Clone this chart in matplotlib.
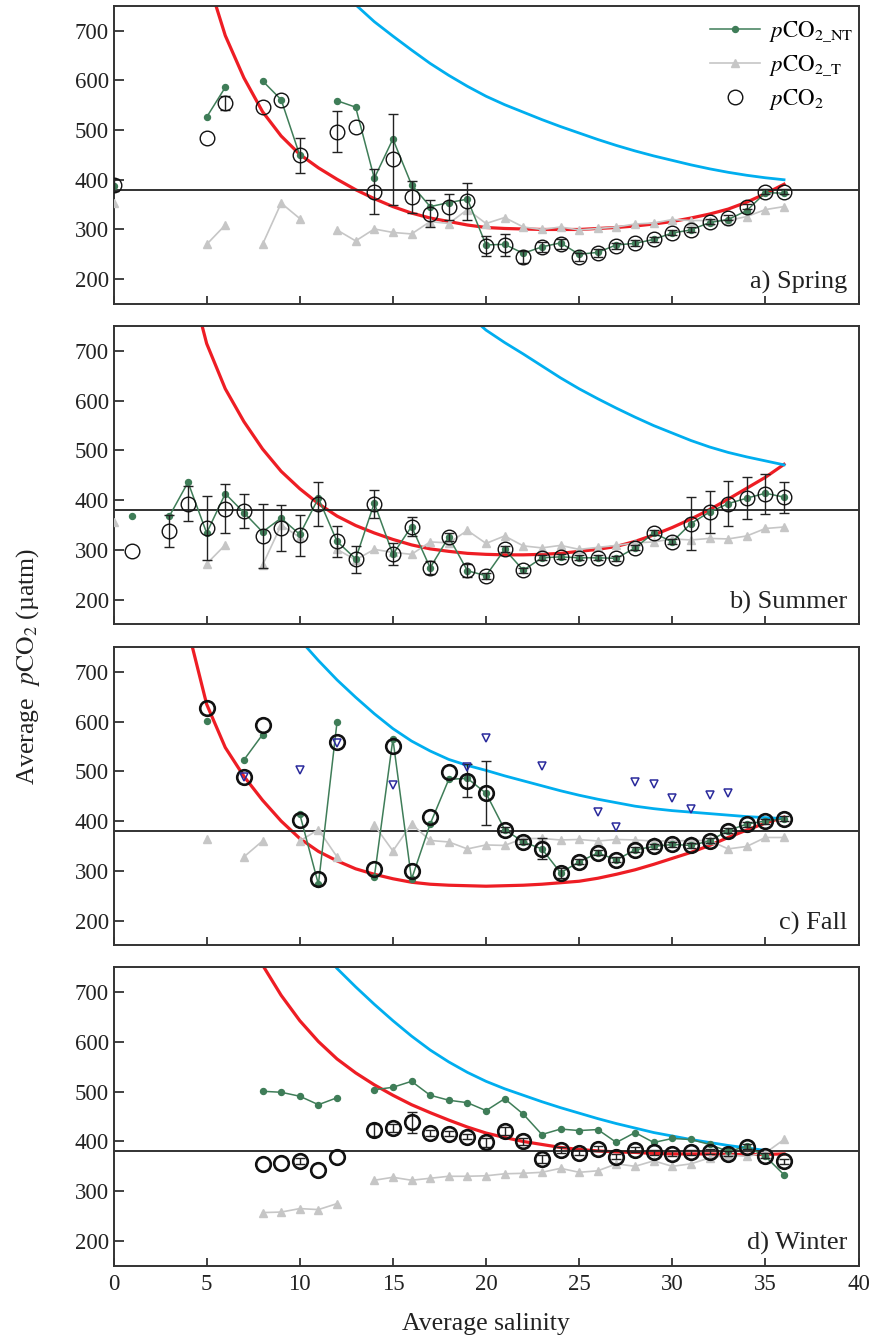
import numpy as np
import matplotlib
matplotlib.use('Agg')
import matplotlib.pyplot as plt

plt.rcParams['font.family'] = ['Liberation Serif', 'DejaVu Serif']
plt.rcParams['mathtext.fontset'] = 'stix'

nan = np.nan
sal = np.arange(0, 37)

# a) Spring
spr_nt = [388, nan, nan, nan, nan, 526, 586, nan, 599, 561, 449, nan, 559, 546, 403, 482, 390, 346, 354, 361,
          269, 270, 252, 265, 273, 250, 254, 269, 272, 280, 293, 299, 314, 320, 338, 374, 373]
spr_t = [354, nan, nan, nan, nan, 270, 309, nan, 270, 353, 322, nan, 299, 277, 301, 294, 291, 316, 312, 340,
         312, 324, 305, 300, 305, 299, 302, 305, 311, 313, 320, 318, 318, 318, 326, 340, 346]
spr_obs = [389, nan, nan, nan, nan, 485, 555, nan, 547, 561, 449, nan, 497, 507, 376, 441, 366, 332, 346, 357,
           267, 268, 244, 264, 270, 245, 252, 267, 272, 280, 293, 299, 316, 324, 346, 376, 376]
spr_err = [12, 0, 0, 0, 0, 0, 14, 0, 0, 0, 35, 0, 42, 0, 45, 91, 32, 27, 26, 37,
           20, 22, 12, 10, 10, 8, 8, 6, 6, 5, 5, 5, 5, 5, 5, 5, 5]
spr_red = [nan, nan, nan, nan, nan, 810, 690, 605, 537, 488, 451, 424, 401, 380, 362, 346, 333, 323, 316, 309,
           304, 302, 301, 300, 300, 300, 302, 304, 307, 311, 316, 323, 331, 341, 355, 372, 391]
spr_blue = [nan] * 12 + [790, 752, 718, 689, 661, 634, 610, 588, 568, 551, 536, 521, 507, 494, 481, 469,
                         458, 448, 439, 430, 422, 415, 409, 404, 400]

# b) Summer
sum_nt = [nan, 368, nan, 368, 436, 334, 413, 375, 336, 364, 331, 404, 317, 282, 394, 291, 347, 264, 326, 258,
          248, 301, 259, 284, 286, 284, 284, 283, 304, 334, 316, 353, 376, 393, 404, 414, 406]
sum_t = [356, nan, nan, nan, nan, 272, 310, nan, 269, 350, 325, nan, 301, 280, 301, 295, 291, 316, 314, 339,
         313, 328, 308, 304, 309, 301, 305, 309, 314, 316, 322, 320, 323, 322, 328, 343, 346]
sum_obs = [nan, 297, nan, 338, 393, 344, 383, 378, 328, 344, 329, 392, 317, 281, 392, 291, 347, 264, 326, 259,
           247, 301, 259, 284, 286, 284, 284, 283, 304, 334, 316, 353, 376, 393, 404, 412, 406]
sum_err = [0, 0, 0, 32, 35, 64, 50, 34, 64, 47, 42, 44, 31, 27, 28, 22, 20, 13, 8, 13,
           6, 6, 5, 5, 5, 5, 5, 5, 5, 5, 5, 54, 43, 45, 42, 40, 31]
sum_red = [nan] * 4 + [860, 715, 624, 558, 503, 458, 423, 393, 368, 349, 334, 321, 310, 302, 297, 293,
                       291, 290, 290, 291, 293, 297, 301, 307, 317, 330, 345, 362, 381, 402, 424, 446, 472]
sum_blue = [nan] * 19 + [775, 742, 717, 694, 670, 646, 624, 604, 585, 567, 550, 535, 520, 507, 496, 487, 479, 471]

# c) Fall
fal_nt = [nan] * 5 + [602, nan, 523, 574, nan, 414, 273, 599, nan, 287, 565, 283, 394, 484, 486,
                      456, 383, 358, 344, 296, 318, 336, 322, 342, 349, 353, 351, 360, 381, 394, 400, 405]
fal_t = [nan] * 5 + [363, nan, 328, 360, nan, 360, 383, 328, nan, 392, 340, 394, 361, 358, 344,
                     352, 351, 365, 365, 362, 363, 360, 363, 362, 360, 360, 361, 361, 344, 349, 367, 367]
fal_obs = [nan] * 5 + [627, nan, 489, 594, nan, 402, 283, 559, nan, 304, 551, 300, 408, 499, 481,
                       456, 383, 358, 344, 296, 318, 336, 322, 342, 349, 353, 351, 360, 381, 394, 400, 405]
fal_err = [0] * 19 + [33, 64, 5, 5, 21, 10, 5, 5, 5, 5, 5, 5, 5, 5, 5, 5, 5, 5]
fal_red = [nan] * 4 + [785, 635, 548, 490, 442, 400, 365, 339, 320, 304, 293, 284, 277, 273, 271, 270,
                       269, 270, 271, 273, 276, 279, 285, 293, 302, 313, 325, 337, 351, 367, 382, 396, 408]
fal_blue = [nan] * 10 + [765, 723, 684, 649, 616, 586, 561, 541, 524, 512, 502, 491, 481, 471, 461, 452,
                         444, 437, 430, 425, 421, 418, 415, 412, 409, 407, 405]
fal_tri_sal = [7, 10, 12, 15, 19, 20, 23, 26, 27, 28, 29, 30, 31, 32, 33]
fal_tri = [488, 502, 558, 473, 508, 567, 511, 418, 388, 479, 474, 447, 425, 453, 456]

# d) Winter
win_nt = [nan] * 8 + [501, 499, 491, 474, 488, nan, 504, 509, 521, 493, 483, 478, 462, 486, 455, 414,
                      425, 422, 424, 398, 418, 398, 406, 404, 394, 380, 390, 370, 333]
win_t = [nan] * 8 + [257, 258, 265, 263, 275, nan, 322, 328, 322, 326, 330, 330, 331, 335, 336, 338,
                     346, 338, 341, 355, 350, 361, 350, 355, 367, 373, 370, 377, 404]
win_obs = [nan] * 8 + [355, 356, 360, 343, 369, nan, 424, 428, 439, 417, 416, 410, 398, 422, 400, 365,
                       383, 377, 385, 369, 383, 378, 375, 378, 379, 375, 389, 371, 360]
win_err = [0] * 8 + [0, 0, 6, 0, 0, 0, 12, 8, 21, 6, 5, 5, 10, 8, 8, 8, 6, 5, 5, 5, 5, 5, 5, 5, 5, 5, 5, 5, 5]
win_red = [nan] * 7 + [830, 755, 694, 643, 601, 566, 538, 514, 493, 474, 458, 443, 429, 417, 408, 400,
                       394, 388, 384, 381, 379, 378, 376, 375, 375, 375, 374, 374, 374, 375]
win_blue = [nan] * 11 + [790, 748, 711, 676, 643, 612, 584, 560, 539, 521, 506, 493, 480, 468, 457, 446,
                         436, 427, 418, 411, 404, 398, 392, 387, 382, nan]

atm = 380
panels = [
    ('a) Spring', spr_nt, spr_t, spr_obs, spr_err, spr_red, spr_blue, 1.0),
    ('b) Summer', sum_nt, sum_t, sum_obs, sum_err, sum_red, sum_blue, 1.0),
    ('c) Fall', fal_nt, fal_t, fal_obs, fal_err, fal_red, fal_blue, 1.9),
    ('d) Winter', win_nt, win_t, win_obs, win_err, win_red, win_blue, 1.9),
]

GREEN = '#3f7d58'
GRAY = '#c6c6c6'
RED = '#ee1d24'
BLUE = '#00aeef'
NAVY = '#2a2a9c'

fig = plt.figure(figsize=(8.74, 13.4), dpi=100)
bottoms = [0.7731, 0.5340, 0.2945, 0.0554]
axes = []
for k, (label, nt, t, obs, err, red, blue, mew) in enumerate(panels):
    ax = fig.add_axes([0.1299, bottoms[k], 0.8524, 0.2226])
    axes.append(ax)
    ax.plot(sal, red, color=RED, lw=2.3, zorder=2)
    ax.plot(sal, blue, color=BLUE, lw=2.0, zorder=2)
    ax.axhline(atm, color='#222222', lw=1.3, zorder=2)
    ax.plot(sal, t, color=GRAY, lw=1.2, marker='^', ms=5.5, mec=GRAY, zorder=3,
            label=r'$p\mathrm{CO}_{\mathrm{2\_T}}$')
    ax.plot(sal, nt, color=GREEN, lw=1.1, marker='o', ms=4.3, mec=GREEN, zorder=4,
            label=r'$p\mathrm{CO}_{\mathrm{2\_NT}}$')
    e = np.array(err, dtype=float)
    o = np.array(obs, dtype=float)
    m = e > 0
    ax.errorbar(sal[m], o[m], yerr=e[m], fmt='none', ecolor='#222222', elinewidth=1.0,
                capsize=3.5, capthick=1.0, zorder=5)
    ax.plot(sal, obs, ls='none', marker='o', ms=10.5, mfc='none', mec='#111111', mew=mew, zorder=6,
            label=r'$p\mathrm{CO}_2$')
    if k == 2:
        ax.plot(fal_tri_sal, fal_tri, ls='none', marker='v', ms=5.5, mfc='none', mec=NAVY, mew=1.1, zorder=7)

    ax.set_xlim(0, 40)
    ax.set_ylim(150, 750)
    ax.set_xticks(np.arange(0, 41, 5))
    ax.set_yticks(np.arange(200, 701, 100))
    ax.tick_params(direction='in', length=7, width=1.2, labelsize=16.5, colors='#222222')
    ax.tick_params(axis='x', length=5.5, pad=6)
    for s in ax.spines.values():
        s.set_linewidth(1.4)
        s.set_color('#333333')
    if k < 3:
        ax.tick_params(axis='x', labelbottom=False)
    ax.text(0.985, 0.035, label, transform=ax.transAxes, ha='right', va='bottom',
            fontsize=19, color='#222222')

h, l = axes[0].get_legend_handles_labels()
order = [1, 0, 2]
axes[0].legend([h[i] for i in order], [l[i] for i in order], loc='upper right',
               bbox_to_anchor=(1.012, 1.0), frameon=False,
               fontsize=16.5, handlelength=2.2, handletextpad=0.4, labelspacing=0.38,
               borderaxespad=0.2)

axes[3].set_xlabel('Average salinity', fontsize=18.5, color='#222222', labelpad=13)
fig.text(0.032, 0.503, r'Average  $p\mathrm{CO}_2$ (µatm)', rotation=90, ha='center', va='center',
         fontsize=18.5, color='#222222')

fig.savefig('out.png', dpi=100)
